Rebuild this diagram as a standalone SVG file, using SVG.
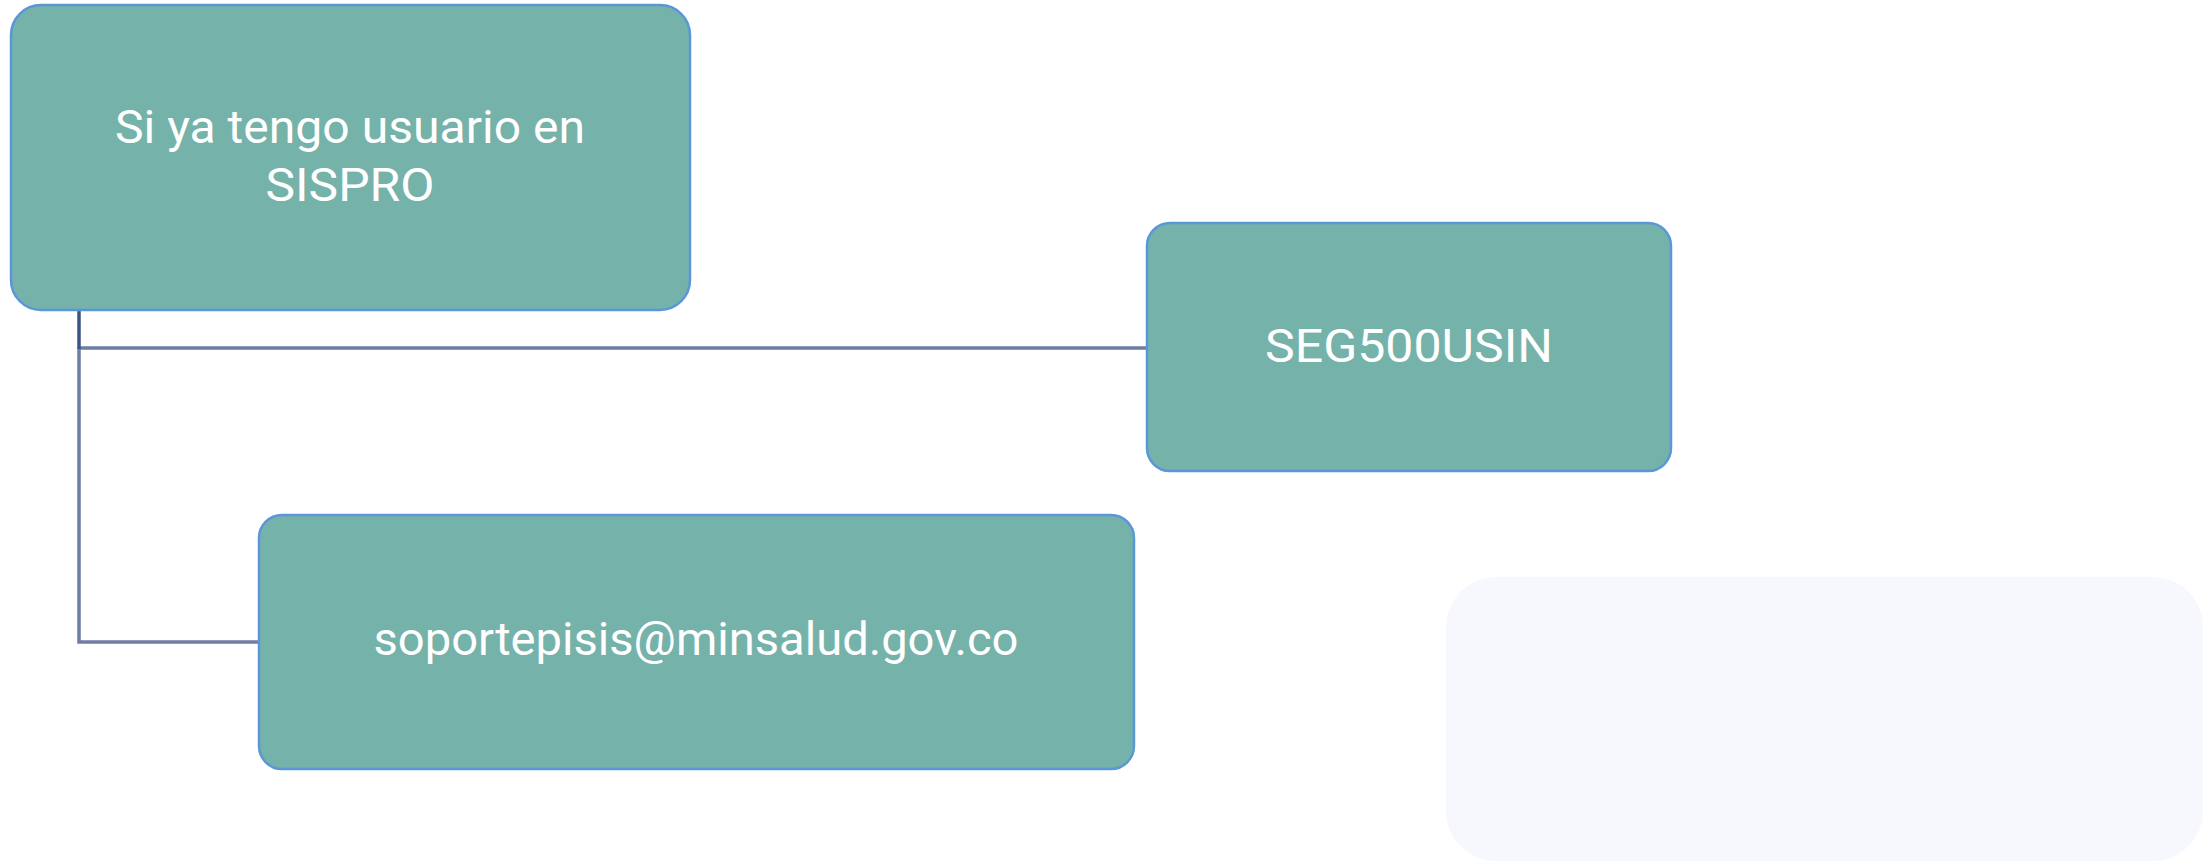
<svg xmlns="http://www.w3.org/2000/svg" width="2209" height="861" viewBox="0 0 2209 861">
  <style>
    .node rect.box { fill: #75b2aa; stroke: #5b97d6; stroke-width: 2.5; }
    .label { font-family: Roboto, "Open Sans", "Liberation Sans", sans-serif; font-weight: 400; font-size: 46px; fill: #ffffff; text-anchor: middle; }
    .conn { fill: none; stroke: #6e7ea2; stroke-width: 3.5; }
    .conn-dark { fill: none; stroke: #3c5386; stroke-width: 3.5; }
  </style>
  <rect x="0" y="0" width="2209" height="861" fill="#ffffff"/>
  <g id="connectors">
    <path class="conn" d="M79 348 L79 642 L259 642"/>
    <path class="conn" d="M79 348 L1147 348"/>
    <path class="conn-dark" d="M79 310 L79 349"/>
  </g>
  <g id="node-bg">
    <rect x="1446" y="577" width="757" height="284" rx="50" ry="50" fill="#f7f8fe"/>
  </g>
  <g id="node-sispro" class="node">
    <rect class="box" x="11" y="5" width="679" height="305" rx="30" ry="30"/>
    <text class="label" x="350" y="143" textLength="470" lengthAdjust="spacingAndGlyphs">Si ya tengo usuario en</text>
    <text class="label" x="350" y="201" textLength="169" lengthAdjust="spacingAndGlyphs">SISPRO</text>
  </g>
  <g id="node-seg" class="node">
    <rect class="box" x="1147" y="223" width="524" height="248" rx="23" ry="23"/>
    <text class="label" x="1409" y="362" textLength="288" lengthAdjust="spacingAndGlyphs">SEG500USIN</text>
  </g>
  <g id="node-email" class="node">
    <rect class="box" x="259" y="515" width="875" height="254" rx="23" ry="23"/>
    <text class="label" x="696" y="655" textLength="645" lengthAdjust="spacingAndGlyphs">soportepisis@minsalud.gov.co</text>
  </g>
</svg>
